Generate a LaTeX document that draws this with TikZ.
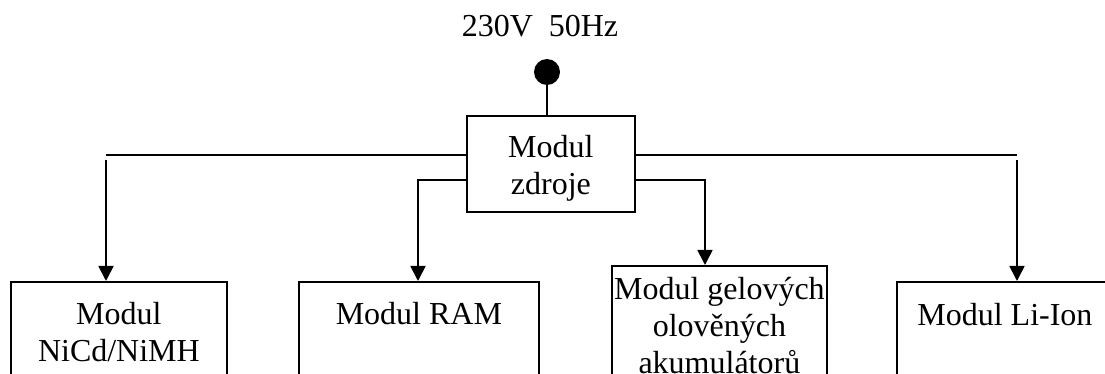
\documentclass[tikz,border=0pt]{standalone}
\usepackage{fontspec}
\setmainfont{Liberation Serif}
\usetikzlibrary{positioning,arrows.meta,calc}
\tikzset{
  wire/.style={line width=0.9pt},
  flow/.style={-{Triangle[width=7.5pt,length=7.5pt]},line width=0.9pt},
  frame/.style={draw,line width=0.9pt,anchor=north west,inner sep=0pt,
    minimum height=60pt},
  caption/.style={anchor=north,align=center,inner sep=0pt,
    font=\fontsize{16}{18.5}\selectfont}
}

\begin{document}
\begin{tikzpicture}[x=0.5pt,y=-0.5pt]
  \useasboundingbox (0,0) rectangle (1105,374);
  \clip (0,0) rectangle (1105,374);
  % supply
  \node[caption] (mains) at (540,15) {230V\ \ 50Hz};
  \node[circle,fill,inner sep=0pt,minimum size=13pt] (plug) at (547,72) {};
  \node[frame,minimum width=84pt,minimum height=48pt] (src) at (466,115) {};
  \node[caption,below=10pt of src.north] (srctext) {Modul\\zdroje};
  % modules
  \node[frame,minimum width=108pt] (nicd) at (10,281) {};
  \node[frame,minimum width=120pt] (ram) at (298,281) {};
  \node[frame,minimum width=107.5pt] (gel) at (611,265) {};
  \node[frame,minimum width=108pt] (liion) at (896,281) {};
  \node[caption,below=10.5pt of nicd.north] (nicdtext) {Modul\\NiCd/NiMH};
  \node[caption,below=10.5pt of ram.north] (ramtext) {Modul RAM};
  \node[caption,below=6pt of gel.north] (geltext) {Modul gelových\\olověných\\akumulátorů};
  \node[caption,below=11pt of liion.north] (liiontext) {Modul Li-Ion};
  % connectors
  \coordinate (tapL) at (106,155);
  \coordinate (tapR) at (1017,155);
  \coordinate (bendL) at (418,180);
  \coordinate (bendR) at (705,180);
  \draw[wire] (plug.south) -- (plug.south |- src.north);
  \draw[wire] (src.west |- tapL) -- (tapL);
  \draw[wire] (src.east |- tapR) -- (tapR);
  \draw[flow] ([yshift=-2.5pt]tapL) -- (tapL |- nicd.north);
  \draw[flow] ([yshift=-2.5pt]tapR) -- (tapR |- liion.north);
  \draw[flow] (src.west |- bendL) -| (bendL |- ram.north);
  \draw[flow] (src.east |- bendR) -| (bendR |- gel.north);
\end{tikzpicture}
\end{document}
